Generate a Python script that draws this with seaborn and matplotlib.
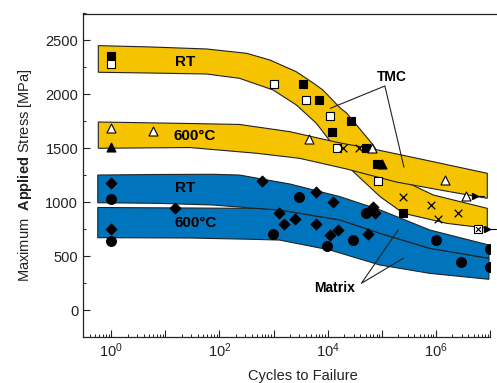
import numpy as np
import pandas as pd
import matplotlib
matplotlib.use("Agg")
import matplotlib.pyplot as plt
import seaborn as sns
from matplotlib.ticker import FixedLocator, FuncFormatter, LogLocator, MultipleLocator

sns.set_style("white")
plt.rcParams["font.family"] = ["Liberation Sans", "DejaVu Sans"]
plt.rcParams["mathtext.fontset"] = "custom"
plt.rcParams["mathtext.rm"] = "Liberation Sans"
plt.rcParams["mathtext.bf"] = "Liberation Sans:bold"
plt.rcParams["mathtext.it"] = "Liberation Sans:italic"

YELLOW = "#F5C300"
BLUE = "#0075BE"

# --- scatter bands (x as log10 cycles, y in MPa) ---
tmc_rt_top_lg = [-0.24, 0.71, 1.76, 2.50, 2.93, 3.42, 3.73, 3.91, 4.23, 4.35, 4.81, 5.08, 5.37, 5.95, 6.95]
tmc_rt_top_mpa = [2452, 2440, 2421, 2381, 2319, 2210, 2106, 2041, 1874, 1827, 1549, 1354, 1206, 1067, 943]
tmc_rt_bot_lg = [-0.24, 0.71, 1.76, 2.37, 2.99, 3.42, 3.79, 3.98, 4.44, 4.97, 5.40, 6.20, 6.95]
tmc_rt_bot_mpa = [2205, 2198, 2189, 2149, 2041, 1902, 1732, 1608, 1299, 1051, 897, 804, 758]

tmc_600_top_lg = [-0.24, 1.45, 2.37, 3.30, 4.23, 4.78, 5.89, 6.95]
tmc_600_top_mpa = [1744, 1730, 1721, 1654, 1549, 1500, 1382, 1268]
tmc_600_bot_lg = [-0.24, 1.45, 2.68, 3.48, 4.35, 5.27, 6.08, 6.95]
tmc_600_bot_mpa = [1500, 1507, 1454, 1407, 1308, 1187, 1113, 1036]

mat_rt_top_lg = [-0.25, 0.83, 1.88, 2.37, 3.30, 4.23, 4.97, 5.89, 6.98]
mat_rt_top_mpa = [1252, 1257, 1259, 1252, 1169, 1051, 928, 742, 603]
mat_rt_bot_lg = [-0.25, 0.83, 1.88, 2.68, 3.11, 4.23, 4.97, 5.89, 6.98]
mat_rt_bot_mpa = [995, 990, 974, 943, 928, 835, 711, 572, 480]

mat_600_top_lg = [-0.25, 0.83, 1.88, 2.68, 3.11, 4.23, 4.97, 5.89, 6.98]
mat_600_top_mpa = [951, 948, 945, 943, 928, 835, 711, 572, 480]
mat_600_bot_lg = [-0.25, 1.45, 2.68, 3.11, 4.04, 4.97, 5.89, 6.98]
mat_600_bot_mpa = [671, 668, 655, 649, 557, 417, 340, 285]

# --- test points ---
rt_black_sq_n = [1, 3500, 6900, 11800, 27000, 51000, 80000, 250000]
rt_black_sq_s = [2355, 2100, 1950, 1655, 1753, 1500, 1350, 900]
rt_white_sq_n = [1, 1000, 3900, 11000, 14800, 86000]
rt_white_sq_s = [2280, 2100, 1950, 1800, 1500, 1200]
t600_white_tri_n = [1, 5.9, 4550, 65000, 1.5e6, 3.6e6]
t600_white_tri_s = [1685, 1660, 1585, 1505, 1205, 1057]
t600_black_tri_n = [1, 100000]
t600_black_tri_s = [1515, 1350]
cross_n = [19400, 38000, 250000, 800000, 1.1e6, 2.6e6]
cross_s = [1500, 1500, 1050, 974, 844, 903]
boxed_n = [6e6]
boxed_s = [749]
runout_n = [3.6e6, 6e6]
runout_s = [1057, 749]

diamond_n = [1, 15, 600, 6000, 12600, 1260, 1560, 2530, 6000, 11000, 15600, 56000, 69000, 74000, 1]
diamond_s = [1175, 950, 1200, 1098, 999, 903, 798, 844, 798, 696, 742, 702, 953, 903, 748]
circle_n = [1, 1, 2950, 980, 9800, 29600, 50000, 1e6, 2.9e6, 9.8e6, 9.8e6]
circle_s = [1030, 640, 1045, 702, 596, 649, 903, 649, 448, 566, 402]

# --- labels (cycles, MPa) ---
band_labels = ["RT", "600°C", "RT", "600°C"]
band_label_n = [23, 35, 23, 36]
band_label_s = [2303, 1614, 1129, 804]


def band(ax, top_lg, top_mpa, bot_lg, bot_mpa, color):
    xs = np.concatenate([np.power(10.0, top_lg), np.power(10.0, bot_lg)[::-1]])
    ys = np.concatenate([top_mpa, bot_mpa[::-1]])
    ax.fill(xs, ys, facecolor=color, edgecolor="#222222", linewidth=0.8, zorder=1)


def pts(ax, n, s, marker, face, size, edge="black", lw=0.8):
    df = pd.DataFrame({"n": n, "s": s})
    sns.scatterplot(data=df, x="n", y="s", marker=marker, color=face, edgecolor=edge,
                    linewidth=lw, s=size, ax=ax, zorder=4, legend=False)


fig = plt.figure(figsize=(4.97, 3.83), dpi=100)
ax = fig.add_axes([83 / 497, 1 - 337 / 383, 407 / 497, 323.5 / 383])
ax.set_xscale("log")

band(ax, tmc_rt_top_lg, tmc_rt_top_mpa, tmc_rt_bot_lg, tmc_rt_bot_mpa, YELLOW)
band(ax, tmc_600_top_lg, tmc_600_top_mpa, tmc_600_bot_lg, tmc_600_bot_mpa, YELLOW)
band(ax, mat_600_top_lg, mat_600_top_mpa, mat_600_bot_lg, mat_600_bot_mpa, BLUE)
band(ax, mat_rt_top_lg, mat_rt_top_mpa, mat_rt_bot_lg, mat_rt_bot_mpa, BLUE)

pts(ax, rt_black_sq_n, rt_black_sq_s, "s", "black", 28)
pts(ax, rt_white_sq_n, rt_white_sq_s, "s", "white", 28)
pts(ax, t600_white_tri_n, t600_white_tri_s, "^", "white", 42)
pts(ax, t600_black_tri_n, t600_black_tri_s, "^", "black", 42)
pts(ax, cross_n, cross_s, "x", "black", 30, lw=0.9)
pts(ax, boxed_n, boxed_s, "s", "white", 30)
pts(ax, boxed_n, boxed_s, "x", "black", 12, lw=0.8)
pts(ax, diamond_n, diamond_s, "D", "black", 30)
pts(ax, circle_n, circle_s, "o", "black", 50)

# run-out arrows
for n, s in zip(runout_n, runout_s):
    ax.plot([n * 10 ** 0.14, n * 10 ** 0.34], [s, s], color="black", lw=0.8, zorder=4, clip_on=False)
    ax.plot([n * 10 ** 0.17], [s], marker=">", color="black", ms=4.5, zorder=4, clip_on=False)

for lab, n, s in zip(band_labels, band_label_n, band_label_s):
    ax.text(n, s, lab, ha="center", va="center", fontsize=11, fontweight="bold",
            color="black", zorder=5)

# annotations
ax.text(1.5e5, 2164, "TMC", ha="center", va="center", fontsize=10, fontweight="bold", color="black")
ax.plot([1.12e4, 1.14e5, 2.57e5], [1871, 2078, 1324], color="#222222", lw=0.8, zorder=5)
ax.text(1.35e4, 201, "Matrix", ha="center", va="center", fontsize=10, fontweight="bold", color="black")
ax.plot([2.0e5, 4.2e4, 2.5e5], [742, 248, 480], color="#222222", lw=0.8, zorder=5)

ax.set_xlim(0.3, 1e7)
ax.set_ylim(-250, 2750)

ax.xaxis.set_major_locator(FixedLocator([10.0 ** k for k in range(0, 8)]))
ax.xaxis.set_major_formatter(FuncFormatter(
    lambda v, p: r"$10^{%d}$" % round(np.log10(v)) if round(np.log10(v)) % 2 == 0 and v < 5e6 else ""))
ax.xaxis.set_minor_locator(LogLocator(base=10, subs=np.arange(2, 10)))
ax.yaxis.set_major_locator(MultipleLocator(500))
ax.yaxis.set_minor_locator(MultipleLocator(250))
ax.tick_params(which="both", direction="in", colors="#222222", labelsize=10.5,
               bottom=True, left=True, top=False, right=False)
ax.tick_params(which="major", length=5, width=0.8)
ax.tick_params(which="minor", length=2.5, width=0.7)

for side in ["left", "bottom", "top"]:
    ax.spines[side].set_color("#222222")
    ax.spines[side].set_linewidth(0.9)
ax.spines["right"].set_visible(False)
# top frame line runs a little past the last decade, as in the original
ax.spines["top"].set_bounds(0.3, 1.35e7)

ax.set_xlabel("Cycles to Failure", fontsize=10.5, color="#222222")
ax.xaxis.set_label_coords(0.54, -0.1)
ax.set_ylabel(r"Maximum  $\mathbf{Applied}$ Stress [MPa]", fontsize=10.5, color="#222222", labelpad=8)

fig.savefig("out.png", dpi=100)
